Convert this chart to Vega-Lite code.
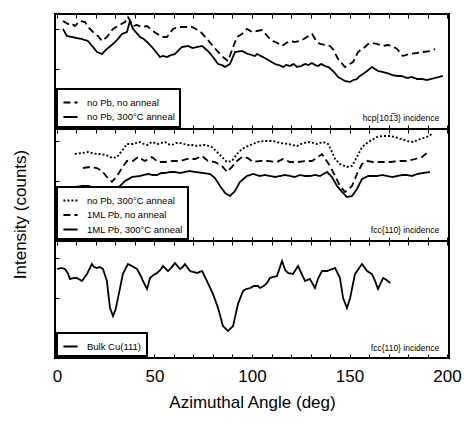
{
  "$schema": "https://vega.github.io/schema/vega-lite/v6.json",
  "padding": {"left": 10, "top": 12, "right": 2, "bottom": 2},
  "background": "white",
  "config": {
    "view": {"stroke": "black", "strokeWidth": 2},
    "font": "Liberation Sans",
    "axis": {"grid": false, "domain": false, "tickColor": "black", "tickSize": -4, "tickWidth": 1, "labelColor": "black", "titleColor": "black", "labelFont": "Liberation Sans", "titleFont": "Liberation Sans", "titleFontWeight": "normal", "labelOverlap": false, "labelFlush": false},
    "legend": {"orient": "bottom-left", "offset": 2, "strokeColor": "black", "strokeWidth": 2, "fillColor": "white", "padding": 5, "labelFontSize": 9.5, "labelFont": "Liberation Sans", "labelColor": "black", "symbolType": "stroke", "symbolStrokeWidth": 2, "symbolStrokeColor": "black", "symbolSize": 200, "rowPadding": 1.5, "labelOffset": 8}
  },
  "bounds": "flush",
  "spacing": 0,
  "resolve": {"scale": {"x": "independent", "y": "independent", "strokeDash": "independent"}, "legend": {"strokeDash": "independent"}},
  "datasets": {
    "p1": [
      {"series":"no Pb, no anneal","angle":3.1,"intensity":108},{"series":"no Pb, no anneal","angle":5.6,"intensity":105},{"series":"no Pb, no anneal","angle":7.2,"intensity":106},{"series":"no Pb, no anneal","angle":9.2,"intensity":103},{"series":"no Pb, no anneal","angle":11.8,"intensity":108},{"series":"no Pb, no anneal","angle":14.4,"intensity":107},{"series":"no Pb, no anneal","angle":15.9,"intensity":102},{"series":"no Pb, no anneal","angle":18.5,"intensity":97},{"series":"no Pb, no anneal","angle":21,"intensity":93},{"series":"no Pb, no anneal","angle":23.1,"intensity":88},{"series":"no Pb, no anneal","angle":25.6,"intensity":92},{"series":"no Pb, no anneal","angle":28.7,"intensity":100},{"series":"no Pb, no anneal","angle":31.3,"intensity":103},{"series":"no Pb, no anneal","angle":34.9,"intensity":107},{"series":"no Pb, no anneal","angle":36.4,"intensity":112},{"series":"no Pb, no anneal","angle":39.0,"intensity":103},{"series":"no Pb, no anneal","angle":41,"intensity":104},{"series":"no Pb, no anneal","angle":43.6,"intensity":102},{"series":"no Pb, no anneal","angle":46.2,"intensity":103},{"series":"no Pb, no anneal","angle":49.2,"intensity":98},{"series":"no Pb, no anneal","angle":51.5,"intensity":95},{"series":"no Pb, no anneal","angle":53.8,"intensity":92},{"series":"no Pb, no anneal","angle":56.4,"intensity":92},{"series":"no Pb, no anneal","angle":59.5,"intensity":100},{"series":"no Pb, no anneal","angle":62.1,"intensity":102},{"series":"no Pb, no anneal","angle":65.6,"intensity":102},{"series":"no Pb, no anneal","angle":69.2,"intensity":102},{"series":"no Pb, no anneal","angle":73.3,"intensity":98},{"series":"no Pb, no anneal","angle":76.9,"intensity":90},{"series":"no Pb, no anneal","angle":80.0,"intensity":83},{"series":"no Pb, no anneal","angle":82.6,"intensity":77},{"series":"no Pb, no anneal","angle":85.1,"intensity":72},{"series":"no Pb, no anneal","angle":87.7,"intensity":68},{"series":"no Pb, no anneal","angle":90.3,"intensity":82},{"series":"no Pb, no anneal","angle":92.3,"intensity":92},{"series":"no Pb, no anneal","angle":94.9,"intensity":95},{"series":"no Pb, no anneal","angle":97.4,"intensity":100},{"series":"no Pb, no anneal","angle":100.0,"intensity":97},{"series":"no Pb, no anneal","angle":102.5,"intensity":98},{"series":"no Pb, no anneal","angle":105.1,"intensity":99},{"series":"no Pb, no anneal","angle":107,"intensity":95},{"series":"no Pb, no anneal","angle":109.2,"intensity":90},{"series":"no Pb, no anneal","angle":110.8,"intensity":88},{"series":"no Pb, no anneal","angle":113,"intensity":86},{"series":"no Pb, no anneal","angle":115.4,"intensity":83},{"series":"no Pb, no anneal","angle":117.5,"intensity":86},{"series":"no Pb, no anneal","angle":119.5,"intensity":88},{"series":"no Pb, no anneal","angle":122,"intensity":87},{"series":"no Pb, no anneal","angle":124.6,"intensity":88},{"series":"no Pb, no anneal","angle":126.5,"intensity":90},{"series":"no Pb, no anneal","angle":128.2,"intensity":92},{"series":"no Pb, no anneal","angle":130.8,"intensity":95},{"series":"no Pb, no anneal","angle":133.3,"intensity":87},{"series":"no Pb, no anneal","angle":134.9,"intensity":85},{"series":"no Pb, no anneal","angle":137.5,"intensity":84},{"series":"no Pb, no anneal","angle":140.0,"intensity":83},{"series":"no Pb, no anneal","angle":141.5,"intensity":80},{"series":"no Pb, no anneal","angle":144.1,"intensity":70},{"series":"no Pb, no anneal","angle":147.7,"intensity":62},{"series":"no Pb, no anneal","angle":151.8,"intensity":67},{"series":"no Pb, no anneal","angle":154.4,"intensity":77},{"series":"no Pb, no anneal","angle":157.9,"intensity":82},{"series":"no Pb, no anneal","angle":159.5,"intensity":85},{"series":"no Pb, no anneal","angle":162,"intensity":86},{"series":"no Pb, no anneal","angle":164.1,"intensity":85},{"series":"no Pb, no anneal","angle":167.2,"intensity":83},{"series":"no Pb, no anneal","angle":169.5,"intensity":84},{"series":"no Pb, no anneal","angle":171.8,"intensity":83},{"series":"no Pb, no anneal","angle":174.4,"intensity":80},{"series":"no Pb, no anneal","angle":177.4,"intensity":73},{"series":"no Pb, no anneal","angle":179,"intensity":74},{"series":"no Pb, no anneal","angle":181.0,"intensity":75},{"series":"no Pb, no anneal","angle":184.6,"intensity":76},{"series":"no Pb, no anneal","angle":187.7,"intensity":77},{"series":"no Pb, no anneal","angle":191.3,"intensity":78},{"series":"no Pb, no anneal","angle":193.8,"intensity":80},
      {"series":"no Pb, 300°C anneal","angle":3.1,"intensity":100},{"series":"no Pb, 300°C anneal","angle":5.1,"intensity":93},{"series":"no Pb, 300°C anneal","angle":7.7,"intensity":92},{"series":"no Pb, 300°C anneal","angle":10,"intensity":91},{"series":"no Pb, 300°C anneal","angle":12.8,"intensity":90},{"series":"no Pb, 300°C anneal","angle":15.9,"intensity":88},{"series":"no Pb, 300°C anneal","angle":18.5,"intensity":82},{"series":"no Pb, 300°C anneal","angle":20.5,"intensity":77},{"series":"no Pb, 300°C anneal","angle":23.1,"intensity":75},{"series":"no Pb, 300°C anneal","angle":25.6,"intensity":80},{"series":"no Pb, 300°C anneal","angle":28.7,"intensity":85},{"series":"no Pb, 300°C anneal","angle":31.3,"intensity":90},{"series":"no Pb, 300°C anneal","angle":33.3,"intensity":95},{"series":"no Pb, 300°C anneal","angle":35.9,"intensity":97},{"series":"no Pb, 300°C anneal","angle":37.4,"intensity":108},{"series":"no Pb, 300°C anneal","angle":39.0,"intensity":100},{"series":"no Pb, 300°C anneal","angle":42.6,"intensity":92},{"series":"no Pb, 300°C anneal","angle":44.5,"intensity":90},{"series":"no Pb, 300°C anneal","angle":46.2,"intensity":87},{"series":"no Pb, 300°C anneal","angle":48.7,"intensity":82},{"series":"no Pb, 300°C anneal","angle":50.8,"intensity":77},{"series":"no Pb, 300°C anneal","angle":52.8,"intensity":72},{"series":"no Pb, 300°C anneal","angle":54.5,"intensity":73},{"series":"no Pb, 300°C anneal","angle":56.4,"intensity":72},{"series":"no Pb, 300°C anneal","angle":58.5,"intensity":74},{"series":"no Pb, 300°C anneal","angle":60.5,"intensity":75},{"series":"no Pb, 300°C anneal","angle":62.5,"intensity":79},{"series":"no Pb, 300°C anneal","angle":64.1,"intensity":82},{"series":"no Pb, 300°C anneal","angle":67.2,"intensity":83},{"series":"no Pb, 300°C anneal","angle":69.5,"intensity":81},{"series":"no Pb, 300°C anneal","angle":71.8,"intensity":82},{"series":"no Pb, 300°C anneal","angle":74.4,"intensity":83},{"series":"no Pb, 300°C anneal","angle":77.4,"intensity":78},{"series":"no Pb, 300°C anneal","angle":80.0,"intensity":72},{"series":"no Pb, 300°C anneal","angle":82.6,"intensity":65},{"series":"no Pb, 300°C anneal","angle":84.5,"intensity":64},{"series":"no Pb, 300°C anneal","angle":86.2,"intensity":62},{"series":"no Pb, 300°C anneal","angle":88.7,"intensity":65},{"series":"no Pb, 300°C anneal","angle":91.3,"intensity":77},{"series":"no Pb, 300°C anneal","angle":94.9,"intensity":78},{"series":"no Pb, 300°C anneal","angle":97.9,"intensity":75},{"series":"no Pb, 300°C anneal","angle":99.8,"intensity":74},{"series":"no Pb, 300°C anneal","angle":101.5,"intensity":73},{"series":"no Pb, 300°C anneal","angle":102.6,"intensity":75},{"series":"no Pb, 300°C anneal","angle":105.6,"intensity":72},{"series":"no Pb, 300°C anneal","angle":107.5,"intensity":70},{"series":"no Pb, 300°C anneal","angle":109.2,"intensity":68},{"series":"no Pb, 300°C anneal","angle":111.8,"intensity":65},{"series":"no Pb, 300°C anneal","angle":113.8,"intensity":64},{"series":"no Pb, 300°C anneal","angle":115.9,"intensity":62},{"series":"no Pb, 300°C anneal","angle":117.5,"intensity":64},{"series":"no Pb, 300°C anneal","angle":119.5,"intensity":63},{"series":"no Pb, 300°C anneal","angle":121.3,"intensity":65},{"series":"no Pb, 300°C anneal","angle":123.1,"intensity":62},{"series":"no Pb, 300°C anneal","angle":125.2,"intensity":63},{"series":"no Pb, 300°C anneal","angle":127.2,"intensity":65},{"series":"no Pb, 300°C anneal","angle":129,"intensity":64},{"series":"no Pb, 300°C anneal","angle":130.8,"intensity":66},{"series":"no Pb, 300°C anneal","angle":132.3,"intensity":64},{"series":"no Pb, 300°C anneal","angle":133.8,"intensity":63},{"series":"no Pb, 300°C anneal","angle":135.5,"intensity":65},{"series":"no Pb, 300°C anneal","angle":137.4,"intensity":63},{"series":"no Pb, 300°C anneal","angle":139.2,"intensity":62},{"series":"no Pb, 300°C anneal","angle":141.0,"intensity":59},{"series":"no Pb, 300°C anneal","angle":142.5,"intensity":56},{"series":"no Pb, 300°C anneal","angle":144.1,"intensity":52},{"series":"no Pb, 300°C anneal","angle":146,"intensity":50},{"series":"no Pb, 300°C anneal","angle":147.7,"intensity":48},{"series":"no Pb, 300°C anneal","angle":150.3,"intensity":47},{"series":"no Pb, 300°C anneal","angle":152,"intensity":49},{"series":"no Pb, 300°C anneal","angle":153.8,"intensity":50},{"series":"no Pb, 300°C anneal","angle":155.3,"intensity":53},{"series":"no Pb, 300°C anneal","angle":156.9,"intensity":55},{"series":"no Pb, 300°C anneal","angle":159,"intensity":58},{"series":"no Pb, 300°C anneal","angle":161.5,"intensity":62},{"series":"no Pb, 300°C anneal","angle":163,"intensity":60},{"series":"no Pb, 300°C anneal","angle":164.6,"intensity":58},{"series":"no Pb, 300°C anneal","angle":167,"intensity":57},{"series":"no Pb, 300°C anneal","angle":169.2,"intensity":56},{"series":"no Pb, 300°C anneal","angle":171.8,"intensity":54},{"series":"no Pb, 300°C anneal","angle":174.4,"intensity":53},{"series":"no Pb, 300°C anneal","angle":176.8,"intensity":53},{"series":"no Pb, 300°C anneal","angle":179.5,"intensity":51},{"series":"no Pb, 300°C anneal","angle":182,"intensity":52},{"series":"no Pb, 300°C anneal","angle":184.6,"intensity":50},{"series":"no Pb, 300°C anneal","angle":187,"intensity":50},{"series":"no Pb, 300°C anneal","angle":189.7,"intensity":49},{"series":"no Pb, 300°C anneal","angle":191.8,"intensity":50},{"series":"no Pb, 300°C anneal","angle":193.8,"intensity":51},{"series":"no Pb, 300°C anneal","angle":195.8,"intensity":52},{"series":"no Pb, 300°C anneal","angle":197.9,"intensity":53}
    ],
    "p2": [
      {"series":"no Pb, 300°C anneal","angle":9.2,"intensity":87},{"series":"no Pb, 300°C anneal","angle":12.8,"intensity":88},{"series":"no Pb, 300°C anneal","angle":15.9,"intensity":89},{"series":"no Pb, 300°C anneal","angle":18,"intensity":88},{"series":"no Pb, 300°C anneal","angle":20.5,"intensity":87},{"series":"no Pb, 300°C anneal","angle":22.5,"intensity":87},{"series":"no Pb, 300°C anneal","angle":24.6,"intensity":86},{"series":"no Pb, 300°C anneal","angle":26.5,"intensity":85},{"series":"no Pb, 300°C anneal","angle":28.2,"intensity":83},{"series":"no Pb, 300°C anneal","angle":30.8,"intensity":84},{"series":"no Pb, 300°C anneal","angle":33.3,"intensity":90},{"series":"no Pb, 300°C anneal","angle":35.9,"intensity":97},{"series":"no Pb, 300°C anneal","angle":39.0,"intensity":97},{"series":"no Pb, 300°C anneal","angle":40.8,"intensity":98},{"series":"no Pb, 300°C anneal","angle":42.6,"intensity":99},{"series":"no Pb, 300°C anneal","angle":44.5,"intensity":97},{"series":"no Pb, 300°C anneal","angle":46.2,"intensity":96},{"series":"no Pb, 300°C anneal","angle":48.7,"intensity":99},{"series":"no Pb, 300°C anneal","angle":51.8,"intensity":97},{"series":"no Pb, 300°C anneal","angle":55.4,"intensity":99},{"series":"no Pb, 300°C anneal","angle":57,"intensity":97},{"series":"no Pb, 300°C anneal","angle":59.0,"intensity":96},{"series":"no Pb, 300°C anneal","angle":61,"intensity":98},{"series":"no Pb, 300°C anneal","angle":63.1,"intensity":98},{"series":"no Pb, 300°C anneal","angle":65.2,"intensity":97},{"series":"no Pb, 300°C anneal","angle":67.2,"intensity":96},{"series":"no Pb, 300°C anneal","angle":69.5,"intensity":96},{"series":"no Pb, 300°C anneal","angle":71.8,"intensity":95},{"series":"no Pb, 300°C anneal","angle":75.9,"intensity":96},{"series":"no Pb, 300°C anneal","angle":77.8,"intensity":95},{"series":"no Pb, 300°C anneal","angle":79.5,"intensity":94},{"series":"no Pb, 300°C anneal","angle":82.1,"intensity":89},{"series":"no Pb, 300°C anneal","angle":84.6,"intensity":84},{"series":"no Pb, 300°C anneal","angle":87.2,"intensity":79},{"series":"no Pb, 300°C anneal","angle":89.7,"intensity":80},{"series":"no Pb, 300°C anneal","angle":92.3,"intensity":87},{"series":"no Pb, 300°C anneal","angle":94.9,"intensity":92},{"series":"no Pb, 300°C anneal","angle":97.9,"intensity":95},{"series":"no Pb, 300°C anneal","angle":100.5,"intensity":97},{"series":"no Pb, 300°C anneal","angle":102.6,"intensity":99},{"series":"no Pb, 300°C anneal","angle":106.7,"intensity":100},{"series":"no Pb, 300°C anneal","angle":110.8,"intensity":100},{"series":"no Pb, 300°C anneal","angle":114.4,"intensity":98},{"series":"no Pb, 300°C anneal","angle":118.5,"intensity":97},{"series":"no Pb, 300°C anneal","angle":123.1,"intensity":95},{"series":"no Pb, 300°C anneal","angle":126.2,"intensity":98},{"series":"no Pb, 300°C anneal","angle":129.7,"intensity":99},{"series":"no Pb, 300°C anneal","angle":133.3,"intensity":97},{"series":"no Pb, 300°C anneal","angle":136.4,"intensity":99},{"series":"no Pb, 300°C anneal","angle":139.0,"intensity":97},{"series":"no Pb, 300°C anneal","angle":141.0,"intensity":89},{"series":"no Pb, 300°C anneal","angle":142.6,"intensity":82},{"series":"no Pb, 300°C anneal","angle":145.1,"intensity":77},{"series":"no Pb, 300°C anneal","angle":148.7,"intensity":74},{"series":"no Pb, 300°C anneal","angle":151.3,"intensity":75},{"series":"no Pb, 300°C anneal","angle":153.8,"intensity":84},{"series":"no Pb, 300°C anneal","angle":156.4,"intensity":94},{"series":"no Pb, 300°C anneal","angle":159.5,"intensity":99},{"series":"no Pb, 300°C anneal","angle":164.1,"intensity":104},{"series":"no Pb, 300°C anneal","angle":167.2,"intensity":105},{"series":"no Pb, 300°C anneal","angle":170.8,"intensity":105},{"series":"no Pb, 300°C anneal","angle":174.9,"intensity":103},{"series":"no Pb, 300°C anneal","angle":179.5,"intensity":100},{"series":"no Pb, 300°C anneal","angle":182.6,"intensity":99},{"series":"no Pb, 300°C anneal","angle":186.2,"intensity":102},{"series":"no Pb, 300°C anneal","angle":189.7,"intensity":104},{"series":"no Pb, 300°C anneal","angle":192.3,"intensity":107},
      {"series":"1ML Pb, no anneal","angle":13.3,"intensity":73},{"series":"1ML Pb, no anneal","angle":16.9,"intensity":74},{"series":"1ML Pb, no anneal","angle":20.5,"intensity":73},{"series":"1ML Pb, no anneal","angle":23.1,"intensity":70},{"series":"1ML Pb, no anneal","angle":25.6,"intensity":64},{"series":"1ML Pb, no anneal","angle":28.2,"intensity":59},{"series":"1ML Pb, no anneal","angle":30.8,"intensity":65},{"series":"1ML Pb, no anneal","angle":33.3,"intensity":73},{"series":"1ML Pb, no anneal","angle":35.9,"intensity":80},{"series":"1ML Pb, no anneal","angle":39.0,"intensity":80},{"series":"1ML Pb, no anneal","angle":41.5,"intensity":84},{"series":"1ML Pb, no anneal","angle":45.1,"intensity":80},{"series":"1ML Pb, no anneal","angle":48.7,"intensity":84},{"series":"1ML Pb, no anneal","angle":51.8,"intensity":79},{"series":"1ML Pb, no anneal","angle":55.4,"intensity":79},{"series":"1ML Pb, no anneal","angle":59.0,"intensity":80},{"series":"1ML Pb, no anneal","angle":63.1,"intensity":80},{"series":"1ML Pb, no anneal","angle":66.7,"intensity":82},{"series":"1ML Pb, no anneal","angle":70.8,"intensity":82},{"series":"1ML Pb, no anneal","angle":74.4,"intensity":85},{"series":"1ML Pb, no anneal","angle":77.4,"intensity":80},{"series":"1ML Pb, no anneal","angle":81.0,"intensity":79},{"series":"1ML Pb, no anneal","angle":84.6,"intensity":75},{"series":"1ML Pb, no anneal","angle":87.2,"intensity":69},{"series":"1ML Pb, no anneal","angle":89.7,"intensity":74},{"series":"1ML Pb, no anneal","angle":92.3,"intensity":80},{"series":"1ML Pb, no anneal","angle":94.9,"intensity":84},{"series":"1ML Pb, no anneal","angle":97.9,"intensity":83},{"series":"1ML Pb, no anneal","angle":100.5,"intensity":79},{"series":"1ML Pb, no anneal","angle":104.1,"intensity":80},{"series":"1ML Pb, no anneal","angle":108.2,"intensity":80},{"series":"1ML Pb, no anneal","angle":112.8,"intensity":79},{"series":"1ML Pb, no anneal","angle":115.9,"intensity":82},{"series":"1ML Pb, no anneal","angle":119.5,"intensity":79},{"series":"1ML Pb, no anneal","angle":123.6,"intensity":79},{"series":"1ML Pb, no anneal","angle":127.2,"intensity":80},{"series":"1ML Pb, no anneal","angle":130.8,"intensity":80},{"series":"1ML Pb, no anneal","angle":133.8,"intensity":84},{"series":"1ML Pb, no anneal","angle":135.9,"intensity":87},{"series":"1ML Pb, no anneal","angle":140.0,"intensity":75},{"series":"1ML Pb, no anneal","angle":142.6,"intensity":65},{"series":"1ML Pb, no anneal","angle":145.1,"intensity":55},{"series":"1ML Pb, no anneal","angle":147.7,"intensity":49},{"series":"1ML Pb, no anneal","angle":151.3,"intensity":55},{"series":"1ML Pb, no anneal","angle":153.8,"intensity":67},{"series":"1ML Pb, no anneal","angle":156.4,"intensity":77},{"series":"1ML Pb, no anneal","angle":159.0,"intensity":80},{"series":"1ML Pb, no anneal","angle":162.1,"intensity":79},{"series":"1ML Pb, no anneal","angle":166.7,"intensity":79},{"series":"1ML Pb, no anneal","angle":170.8,"intensity":79},{"series":"1ML Pb, no anneal","angle":174.9,"intensity":80},{"series":"1ML Pb, no anneal","angle":179.5,"intensity":80},{"series":"1ML Pb, no anneal","angle":183.6,"intensity":82},{"series":"1ML Pb, no anneal","angle":187.2,"intensity":84},{"series":"1ML Pb, no anneal","angle":190.3,"intensity":89},
      {"series":"1ML Pb, 300°C anneal","angle":9.2,"intensity":54},{"series":"1ML Pb, 300°C anneal","angle":12.8,"intensity":55},{"series":"1ML Pb, 300°C anneal","angle":15.9,"intensity":55},{"series":"1ML Pb, 300°C anneal","angle":18,"intensity":54},{"series":"1ML Pb, 300°C anneal","angle":20.5,"intensity":54},{"series":"1ML Pb, 300°C anneal","angle":23.6,"intensity":53},{"series":"1ML Pb, 300°C anneal","angle":27.2,"intensity":49},{"series":"1ML Pb, 300°C anneal","angle":29.7,"intensity":50},{"series":"1ML Pb, 300°C anneal","angle":32.3,"intensity":55},{"series":"1ML Pb, 300°C anneal","angle":34.9,"intensity":60},{"series":"1ML Pb, 300°C anneal","angle":38.5,"intensity":64},{"series":"1ML Pb, 300°C anneal","angle":42.6,"intensity":65},{"series":"1ML Pb, 300°C anneal","angle":46.7,"intensity":67},{"series":"1ML Pb, 300°C anneal","angle":49,"intensity":66},{"series":"1ML Pb, 300°C anneal","angle":51.3,"intensity":66},{"series":"1ML Pb, 300°C anneal","angle":53.5,"intensity":68},{"series":"1ML Pb, 300°C anneal","angle":55.4,"intensity":68},{"series":"1ML Pb, 300°C anneal","angle":58,"intensity":69},{"series":"1ML Pb, 300°C anneal","angle":60.5,"intensity":69},{"series":"1ML Pb, 300°C anneal","angle":63,"intensity":68},{"series":"1ML Pb, 300°C anneal","angle":65.6,"intensity":69},{"series":"1ML Pb, 300°C anneal","angle":68,"intensity":70},{"series":"1ML Pb, 300°C anneal","angle":70.8,"intensity":69},{"series":"1ML Pb, 300°C anneal","angle":74.9,"intensity":68},{"series":"1ML Pb, 300°C anneal","angle":78.5,"intensity":67},{"series":"1ML Pb, 300°C anneal","angle":81.0,"intensity":63},{"series":"1ML Pb, 300°C anneal","angle":83.6,"intensity":55},{"series":"1ML Pb, 300°C anneal","angle":86.2,"intensity":48},{"series":"1ML Pb, 300°C anneal","angle":88.7,"intensity":45},{"series":"1ML Pb, 300°C anneal","angle":91.3,"intensity":50},{"series":"1ML Pb, 300°C anneal","angle":93.8,"intensity":59},{"series":"1ML Pb, 300°C anneal","angle":97.4,"intensity":65},{"series":"1ML Pb, 300°C anneal","angle":100.5,"intensity":67},{"series":"1ML Pb, 300°C anneal","angle":104.1,"intensity":65},{"series":"1ML Pb, 300°C anneal","angle":106.5,"intensity":66},{"series":"1ML Pb, 300°C anneal","angle":109.2,"intensity":65},{"series":"1ML Pb, 300°C anneal","angle":112,"intensity":64},{"series":"1ML Pb, 300°C anneal","angle":114.4,"intensity":65},{"series":"1ML Pb, 300°C anneal","angle":117,"intensity":66},{"series":"1ML Pb, 300°C anneal","angle":119.5,"intensity":65},{"series":"1ML Pb, 300°C anneal","angle":122,"intensity":64},{"series":"1ML Pb, 300°C anneal","angle":124.6,"intensity":66},{"series":"1ML Pb, 300°C anneal","angle":127,"intensity":65},{"series":"1ML Pb, 300°C anneal","angle":129.7,"intensity":65},{"series":"1ML Pb, 300°C anneal","angle":132.3,"intensity":66},{"series":"1ML Pb, 300°C anneal","angle":134.9,"intensity":65},{"series":"1ML Pb, 300°C anneal","angle":138.5,"intensity":69},{"series":"1ML Pb, 300°C anneal","angle":141.0,"intensity":64},{"series":"1ML Pb, 300°C anneal","angle":143.6,"intensity":55},{"series":"1ML Pb, 300°C anneal","angle":146.2,"intensity":49},{"series":"1ML Pb, 300°C anneal","angle":148.7,"intensity":44},{"series":"1ML Pb, 300°C anneal","angle":151.3,"intensity":45},{"series":"1ML Pb, 300°C anneal","angle":153.8,"intensity":52},{"series":"1ML Pb, 300°C anneal","angle":156.4,"intensity":62},{"series":"1ML Pb, 300°C anneal","angle":159.5,"intensity":65},{"series":"1ML Pb, 300°C anneal","angle":162,"intensity":65},{"series":"1ML Pb, 300°C anneal","angle":164.1,"intensity":65},{"series":"1ML Pb, 300°C anneal","angle":167,"intensity":66},{"series":"1ML Pb, 300°C anneal","angle":169.2,"intensity":65},{"series":"1ML Pb, 300°C anneal","angle":172,"intensity":64},{"series":"1ML Pb, 300°C anneal","angle":174.4,"intensity":65},{"series":"1ML Pb, 300°C anneal","angle":177,"intensity":66},{"series":"1ML Pb, 300°C anneal","angle":179.5,"intensity":66},{"series":"1ML Pb, 300°C anneal","angle":182,"intensity":65},{"series":"1ML Pb, 300°C anneal","angle":184.6,"intensity":67},{"series":"1ML Pb, 300°C anneal","angle":187.7,"intensity":68},{"series":"1ML Pb, 300°C anneal","angle":191.3,"intensity":69}
    ],
    "p3": [
      {"series":"Bulk Cu(111)","angle":0,"intensity":89},{"series":"Bulk Cu(111)","angle":2,"intensity":90},{"series":"Bulk Cu(111)","angle":4.1,"intensity":89},{"series":"Bulk Cu(111)","angle":5.5,"intensity":85},{"series":"Bulk Cu(111)","angle":6.7,"intensity":79},{"series":"Bulk Cu(111)","angle":8.5,"intensity":80},{"series":"Bulk Cu(111)","angle":10.3,"intensity":80},{"series":"Bulk Cu(111)","angle":12.8,"intensity":77},{"series":"Bulk Cu(111)","angle":15.4,"intensity":84},{"series":"Bulk Cu(111)","angle":17.9,"intensity":94},{"series":"Bulk Cu(111)","angle":19,"intensity":91},{"series":"Bulk Cu(111)","angle":20.5,"intensity":90},{"series":"Bulk Cu(111)","angle":22,"intensity":91},{"series":"Bulk Cu(111)","angle":23.6,"intensity":89},{"series":"Bulk Cu(111)","angle":25.6,"intensity":77},{"series":"Bulk Cu(111)","angle":27.2,"intensity":50},{"series":"Bulk Cu(111)","angle":28.7,"intensity":42},{"series":"Bulk Cu(111)","angle":30,"intensity":48},{"series":"Bulk Cu(111)","angle":31.3,"intensity":60},{"series":"Bulk Cu(111)","angle":33.8,"intensity":84},{"series":"Bulk Cu(111)","angle":36.4,"intensity":94},{"series":"Bulk Cu(111)","angle":38.5,"intensity":92},{"series":"Bulk Cu(111)","angle":41.0,"intensity":89},{"series":"Bulk Cu(111)","angle":43,"intensity":82},{"series":"Bulk Cu(111)","angle":44.1,"intensity":77},{"series":"Bulk Cu(111)","angle":46.2,"intensity":69},{"series":"Bulk Cu(111)","angle":47.7,"intensity":80},{"series":"Bulk Cu(111)","angle":49.5,"intensity":83},{"series":"Bulk Cu(111)","angle":51.3,"intensity":85},{"series":"Bulk Cu(111)","angle":53,"intensity":88},{"series":"Bulk Cu(111)","angle":54.4,"intensity":92},{"series":"Bulk Cu(111)","angle":56.9,"intensity":87},{"series":"Bulk Cu(111)","angle":58.5,"intensity":90},{"series":"Bulk Cu(111)","angle":60.5,"intensity":95},{"series":"Bulk Cu(111)","angle":63.1,"intensity":89},{"series":"Bulk Cu(111)","angle":64.5,"intensity":91},{"series":"Bulk Cu(111)","angle":65.6,"intensity":94},{"series":"Bulk Cu(111)","angle":68.2,"intensity":87},{"series":"Bulk Cu(111)","angle":70,"intensity":86},{"series":"Bulk Cu(111)","angle":71.8,"intensity":85},{"series":"Bulk Cu(111)","angle":74.4,"intensity":87},{"series":"Bulk Cu(111)","angle":76.9,"intensity":77},{"series":"Bulk Cu(111)","angle":80.0,"intensity":64},{"series":"Bulk Cu(111)","angle":82.6,"intensity":50},{"series":"Bulk Cu(111)","angle":85.1,"intensity":32},{"series":"Bulk Cu(111)","angle":87.7,"intensity":27},{"series":"Bulk Cu(111)","angle":90.3,"intensity":32},{"series":"Bulk Cu(111)","angle":92.8,"intensity":54},{"series":"Bulk Cu(111)","angle":95.4,"intensity":67},{"series":"Bulk Cu(111)","angle":97,"intensity":69},{"series":"Bulk Cu(111)","angle":99.0,"intensity":70},{"series":"Bulk Cu(111)","angle":101,"intensity":72},{"series":"Bulk Cu(111)","angle":103.1,"intensity":72},{"series":"Bulk Cu(111)","angle":104.1,"intensity":70},{"series":"Bulk Cu(111)","angle":106,"intensity":72},{"series":"Bulk Cu(111)","angle":107.7,"intensity":75},{"series":"Bulk Cu(111)","angle":109.2,"intensity":80},{"series":"Bulk Cu(111)","angle":111,"intensity":81},{"series":"Bulk Cu(111)","angle":112.8,"intensity":82},{"series":"Bulk Cu(111)","angle":115.4,"intensity":97},{"series":"Bulk Cu(111)","angle":117,"intensity":88},{"series":"Bulk Cu(111)","angle":118.5,"intensity":85},{"series":"Bulk Cu(111)","angle":121.0,"intensity":84},{"series":"Bulk Cu(111)","angle":123.6,"intensity":92},{"series":"Bulk Cu(111)","angle":125.5,"intensity":84},{"series":"Bulk Cu(111)","angle":127.2,"intensity":77},{"series":"Bulk Cu(111)","angle":129.7,"intensity":79},{"series":"Bulk Cu(111)","angle":132.3,"intensity":70},{"series":"Bulk Cu(111)","angle":134,"intensity":80},{"series":"Bulk Cu(111)","angle":135.9,"intensity":87},{"series":"Bulk Cu(111)","angle":138.5,"intensity":87},{"series":"Bulk Cu(111)","angle":142.6,"intensity":90},{"series":"Bulk Cu(111)","angle":145.1,"intensity":80},{"series":"Bulk Cu(111)","angle":146.7,"intensity":60},{"series":"Bulk Cu(111)","angle":148.7,"intensity":50},{"series":"Bulk Cu(111)","angle":150.3,"intensity":60},{"series":"Bulk Cu(111)","angle":152.8,"intensity":84},{"series":"Bulk Cu(111)","angle":156.4,"intensity":94},{"series":"Bulk Cu(111)","angle":159.0,"intensity":87},{"series":"Bulk Cu(111)","angle":161.5,"intensity":84},{"series":"Bulk Cu(111)","angle":163.1,"intensity":77},{"series":"Bulk Cu(111)","angle":164.6,"intensity":69},{"series":"Bulk Cu(111)","angle":167.2,"intensity":80},{"series":"Bulk Cu(111)","angle":169,"intensity":78},{"series":"Bulk Cu(111)","angle":170.8,"intensity":75}
    ]
  },
  "vconcat": [
    {
      "width": 394, "height": 115,
      "data": {"name": "p1"},
      "layer": [
        {
          "mark": {"type": "line", "color": "black", "strokeWidth": 1.8},
          "encoding": {
            "x": {"field": "angle", "type": "quantitative", "scale": {"domain": [-1, 201], "nice": false}, "axis": {"orient": "bottom", "values": [0,10,20,30,40,50,60,70,80,90,100,110,120,130,140,150,160,170,180,190,200], "labels": false, "title": null}},
            "y": {"field": "intensity", "type": "quantitative", "scale": {"domain": [0, 115], "nice": false}, "axis": {"values": [20,40,60,80,100], "labels": false, "title": null}},
            "strokeDash": {"field": "series", "type": "nominal", "scale": {"domain": ["no Pb, no anneal", "no Pb, 300°C anneal"], "range": [[7,4],[1,0]]}, "legend": {"title": null}}
          }
        },
        {
          "data": {"values": [{"note": "hcp{101\u03053} incidence"}]},
          "mark": {"type": "text", "align": "right", "baseline": "middle", "fontSize": 8.5, "color": "black"},
          "encoding": {
            "x": {"datum": 196, "type": "quantitative", "axis": {"orient": "top", "values": [0,10,20,30,40,50,60,70,80,90,100,110,120,130,140,150,160,170,180,190,200], "labels": false, "title": null}},
            "y": {"datum": 11, "type": "quantitative"},
            "text": {"field": "note"}
          }
        }
      ]
    },
    {
      "width": 394, "height": 112,
      "data": {"name": "p2"},
      "layer": [
        {
          "mark": {"type": "line", "color": "black", "strokeWidth": 1.8},
          "encoding": {
            "x": {"field": "angle", "type": "quantitative", "scale": {"domain": [-1, 201], "nice": false}, "axis": {"orient": "bottom", "values": [0,10,20,30,40,50,60,70,80,90,100,110,120,130,140,150,160,170,180,190,200], "labels": false, "title": null}},
            "y": {"field": "intensity", "type": "quantitative", "scale": {"domain": [0, 112], "nice": false}, "axis": {"values": [20,40,60,80,100], "labels": false, "title": "Intensity (counts)", "titleFontSize": 17, "titlePadding": 25, "titleY": 85}},
            "strokeDash": {"field": "series", "type": "nominal", "scale": {"domain": ["no Pb, 300°C anneal", "1ML Pb, no anneal", "1ML Pb, 300°C anneal"], "range": [[2,2],[7,4],[1,0]]}, "legend": {"title": null}}
          }
        },
        {
          "data": {"values": [{"note": "fcc{110} incidence"}]},
          "mark": {"type": "text", "align": "right", "baseline": "middle", "fontSize": 8.5, "color": "black"},
          "encoding": {
            "x": {"datum": 196, "type": "quantitative", "axis": {"orient": "top", "values": [0,10,20,30,40,50,60,70,80,90,100,110,120,130,140,150,160,170,180,190,200], "labels": false, "title": null}},
            "y": {"datum": 11, "type": "quantitative"},
            "text": {"field": "note"}
          }
        }
      ]
    },
    {
      "width": 394, "height": 117,
      "data": {"name": "p3"},
      "layer": [
        {
          "mark": {"type": "line", "color": "black", "strokeWidth": 1.8},
          "encoding": {
            "x": {"field": "angle", "type": "quantitative", "scale": {"domain": [-1, 201], "nice": false}, "axis": {"orient": "bottom", "values": [0,10,20,30,40,50,60,70,80,90,100,110,120,130,140,150,160,170,180,190,200], "labelExpr": "datum.value % 50 === 0 ? datum.label : ''", "labelFontSize": 17, "labelPadding": 14, "title": "Azimuthal Angle (deg)", "titleFontSize": 17, "titlePadding": 10}},
            "y": {"field": "intensity", "type": "quantitative", "scale": {"domain": [0, 117], "nice": false}, "axis": {"values": [20,40,60,80,100], "labels": false, "title": null}},
            "strokeDash": {"field": "series", "type": "nominal", "scale": {"domain": ["Bulk Cu(111)"], "range": [[1,0]]}, "legend": {"title": null}}
          }
        },
        {
          "data": {"values": [{"note": "fcc{110} incidence"}]},
          "mark": {"type": "text", "align": "right", "baseline": "middle", "fontSize": 8.5, "color": "black"},
          "encoding": {
            "x": {"datum": 196, "type": "quantitative", "axis": {"orient": "top", "values": [0,10,20,30,40,50,60,70,80,90,100,110,120,130,140,150,160,170,180,190,200], "labels": false, "title": null}},
            "y": {"datum": 10, "type": "quantitative"},
            "text": {"field": "note"}
          }
        }
      ]
    }
  ]
}
